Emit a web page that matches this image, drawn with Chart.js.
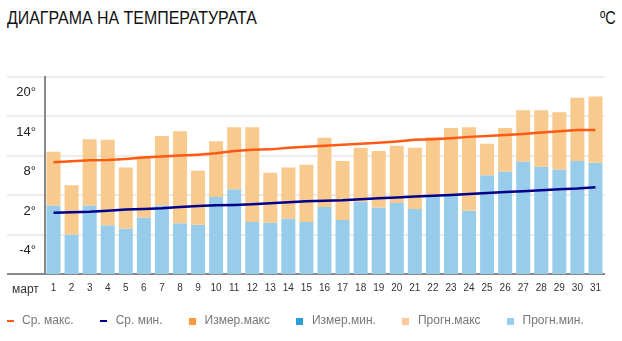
<!DOCTYPE html>
<html>
<head>
<meta charset="utf-8">
<script src="https://cdn.jsdelivr.net/npm/chart.js@4"></script>
<style>
  html, body { margin: 0; padding: 0; background: #fff; overflow: hidden; width: 622px; height: 341px; }
  #wrap { position: relative; width: 622px; height: 341px; }
  #title { position: absolute; left: 7px; top: 8px; font: 18px "Liberation Sans", Arial, sans-serif; line-height: 20px; color: #111; white-space: nowrap; transform: scaleX(0.885); transform-origin: left top; }
  #unit { position: absolute; right: 6px; top: 8px; font: 18px "Liberation Sans", Arial, sans-serif; line-height: 20px; color: #111; white-space: nowrap; transform: scaleX(0.8); transform-origin: right top; }
  #c { position: absolute; left: -20px; top: 0; }
</style>
</head>
<body>
<div id="wrap">
  <div id="title">ДИАГРАМА НА ТЕМПЕРАТУРАТА</div>
  <div id="unit">ºC</div>
  <canvas id="c" width="642" height="337"></canvas>
</div>
<script>
// ---- data ----
const monthLabel = 'март';
const dayLabels = ['1','2','3','4','5','6','7','8','9','10','11','12','13','14','15','16','17','18','19','20','21','22','23','24','25','26','27','28','29','30','31'];
const avgMax = [7.0, 7.15, 7.3, 7.35, 7.5, 7.7, 7.85, 8.0, 8.15, 8.35, 8.7, 8.9, 8.95, 9.2, 9.35, 9.5, 9.65, 9.8, 9.95, 10.15, 10.4, 10.5, 10.65, 10.85, 11.0, 11.15, 11.3, 11.5, 11.7, 11.9, 11.9];
const avgMin = [-0.7, -0.6, -0.55, -0.4, -0.2, -0.1, 0.0, 0.2, 0.35, 0.45, 0.5, 0.6, 0.75, 0.9, 1.05, 1.15, 1.2, 1.35, 1.5, 1.65, 1.8, 1.9, 2.0, 2.15, 2.3, 2.45, 2.6, 2.75, 2.9, 3.0, 3.2];
const measuredMax = [];
const measuredMin = [];
const forecastMax = [8.6, 3.5, 10.5, 10.4, 6.2, 7.9, 11.0, 11.7, 5.7, 10.2, 12.3, 12.3, 5.4, 6.2, 6.6, 10.7, 7.2, 9.2, 8.7, 9.5, 9.2, 10.8, 12.2, 12.3, 9.8, 12.2, 14.9, 14.9, 14.6, 16.8, 17.0];
const forecastMin = [0.4, -4.0, 0.4, -2.6, -3.1, -1.4, 0.4, -2.3, -2.5, 1.7, 2.9, -2.1, -2.2, -1.6, -2.1, 0.2, -1.8, 1.0, 0.1, 0.8, -0.1, 1.8, 2.0, -0.4, 5.0, 5.6, 7.1, 6.3, 5.9, 7.2, 6.9];
const yMin = -10, yMax = 20, yStep = 6;
const seriesNames = ['Ср. макс.', 'Ср. мин.', 'Измер.макс', 'Измер.мин.', 'Прогн.макс', 'Прогн.мин.'];

// ---- styles ----
const C = {
  avgMax: '#ff5a14', avgMin: '#00008b',
  measMax: '#ff9a3c', measMin: '#2a9fd8',
  fcMaxBar: '#f8ca8d', fcMinBar: '#97cdea',
  fcMaxLeg: '#ffca99', fcMinLeg: '#99cdee'
};
function lineMarker(color) {
  const c = document.createElement('canvas'); c.width = 7; c.height = 2;
  const x = c.getContext('2d'); x.fillStyle = color; x.fillRect(0, 0, 7, 2); return c;
}
function squareMarker(color) {
  const c = document.createElement('canvas'); c.width = 7; c.height = 7;
  const x = c.getContext('2d'); x.fillStyle = color; x.fillRect(0, 0, 7, 7); return c;
}

const monthPlugin = {
  id: 'monthLabel',
  afterDraw(chart) {
    const ctx = chart.ctx;
    ctx.save();
    ctx.font = '12px "Liberation Sans", Arial, sans-serif';
    ctx.fillStyle = '#333';
    ctx.textBaseline = 'middle';
    ctx.textAlign = 'left';
    ctx.fillText(monthLabel, 32, 290);
    ctx.restore();
  }
};

new Chart(document.getElementById('c'), {
  type: 'bar',
  data: {
    labels: dayLabels,
    datasets: [
      { type: 'line', label: seriesNames[0], data: avgMax, borderColor: C.avgMax, backgroundColor: C.avgMax, borderWidth: 2.5, pointRadius: 0, tension: 0, pointStyle: lineMarker(C.avgMax) },
      { type: 'line', label: seriesNames[1], data: avgMin, borderColor: C.avgMin, backgroundColor: C.avgMin, borderWidth: 2.5, pointRadius: 0, tension: 0, pointStyle: lineMarker(C.avgMin) },
      { label: seriesNames[2], data: measuredMax, backgroundColor: C.measMax, grouped: false, pointStyle: squareMarker(C.measMax) },
      { label: seriesNames[3], data: measuredMin, backgroundColor: C.measMin, grouped: false, pointStyle: squareMarker(C.measMin) },
      { label: seriesNames[4], data: forecastMax.map((v, i) => [forecastMin[i], v]), backgroundColor: C.fcMaxBar, grouped: false, barPercentage: 0.775, categoryPercentage: 1, pointStyle: squareMarker(C.fcMaxLeg) },
      { label: seriesNames[5], data: forecastMin.map(v => [yMin, v]), backgroundColor: C.fcMinBar, grouped: false, barPercentage: 0.775, categoryPercentage: 1, pointStyle: squareMarker(C.fcMinLeg) }
    ]
  },
  options: {
    responsive: false,
    animation: false,
    devicePixelRatio: 1,
    layout: { padding: { top: 76.7, right: 0, left: 0, bottom: 0 } },
    plugins: {
      tooltip: { enabled: false },
      title: { display: false },
      legend: {
        position: 'bottom',
        align: 'start',
        labels: {
          usePointStyle: true,
          boxWidth: 12,
          boxHeight: 8,
          padding: 24,
          color: '#777',
          font: { family: '"Liberation Sans", Arial, sans-serif', size: 12 }
        }
      }
    },
    scales: {
      x: {
        z: 1,
        grid: { display: false, drawTicks: false },
        border: { display: true, color: '#888', width: 2 },
        ticks: { autoSkip: false, maxRotation: 0, padding: 8, color: '#333', font: { family: '"Liberation Sans Narrow", "Liberation Sans", Arial, sans-serif', size: 10 } },
        afterFit(s) { s.height = 17; }
      },
      y: {
        min: yMin, max: yMax,
        grid: {
          color: c => (c.tick && c.tick.value === yMin) ? '#888' : '#ececec',
          tickColor: c => (c.tick && c.tick.value === yMin) ? '#888' : '#ececec',
          lineWidth: 2,
          drawTicks: true,
          tickLength: 37.5
        },
        border: { display: true, color: '#888', width: 2 },
        ticks: {
          stepSize: yStep,
          padding: -29,
          labelOffset: 16,
          color: '#222',
          font: { family: '"Liberation Sans", Arial, sans-serif', size: 13 },
          callback: v => v === yMin ? '' : v + '°'
        },
        afterFit(s) { s.width = 64.5; }
      },
      spacer: {
        type: 'linear',
        position: 'right',
        display: true,
        grid: { display: false, drawTicks: false },
        border: { display: false },
        ticks: { display: false },
        afterFit(s) { s.width = 17.5; }
      }
    }
  },
  plugins: [monthPlugin]
});
</script>
</body>
</html>
